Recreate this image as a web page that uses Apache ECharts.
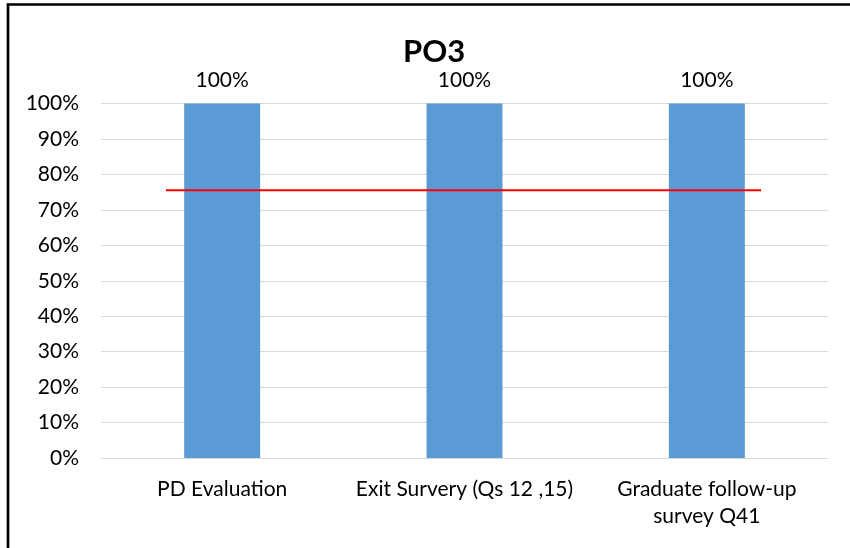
<!DOCTYPE html>
<html><head><meta charset="utf-8">
<script src="https://cdn.jsdelivr.net/npm/echarts@6/dist/echarts.min.js"></script>
<style>html,body{margin:0;padding:0;background:#fff}#c{width:850px;height:548px}</style>
</head><body><div id="c"></div>
<script>
const categories = ['PD Evaluation', 'Exit Survery (Qs 12 ,15)', 'Graduate follow-up\nsurvey Q41'];
const values = [100, 100, 100];
const targetValue = 75.5;
const targetSpan = [0.268, 2.724];
const yTicks = [0, 10, 20, 30, 40, 50, 60, 70, 80, 90, 100];

const chart = echarts.init(document.getElementById('c'));
const font = 'Lato, "Open Sans", sans-serif';
chart.setOption({
  animation: false,
  backgroundColor: '#fff',
  title: { text: 'PO3', left: 398, top: 31, textStyle: { fontFamily: font, fontSize: 31, fontWeight: 'bold', color: '#000' } },
  graphic: [{ type: 'rect', shape: { x: 8, y: 4.5, width: 860, height: 560 }, style: { fill: 'none', stroke: '#000', lineWidth: 2.7 }, silent: true }],
  grid: { left: 101, right: 22, top: 103.5, bottom: 90 },
  xAxis: [
    { type: 'category', data: categories, axisTick: { show: false },
      axisLine: { lineStyle: { color: '#d9d9d9', width: 1 } },
      axisLabel: { fontFamily: font, fontSize: 21, color: '#000', margin: 18, lineHeight: 27, interval: 0 } },
    { type: 'value', min: 0, max: 3, show: false }
  ],
  yAxis: {
    type: 'value', min: yTicks[0], max: yTicks[yTicks.length - 1], interval: 10,
    axisLine: { show: false }, axisTick: { show: false },
    splitLine: { lineStyle: { color: '#d9d9d9', width: 1 } },
    axisLabel: { fontFamily: font, fontSize: 21, color: '#000', margin: 22, formatter: v => v + '%' }
  },
  series: [
    { type: 'bar', data: values, barWidth: 76, itemStyle: { color: '#5B9BD5' },
      label: { show: true, position: 'top', distance: 13, fontFamily: font, fontSize: 21, color: '#000', formatter: p => p.value + '%' } },
    { type: 'line', xAxisIndex: 1, data: targetSpan.map(x => [x, targetValue]), symbol: 'none',
      lineStyle: { color: '#ff0000', width: 2 }, z: 5 }
  ]
});
</script></body></html>
